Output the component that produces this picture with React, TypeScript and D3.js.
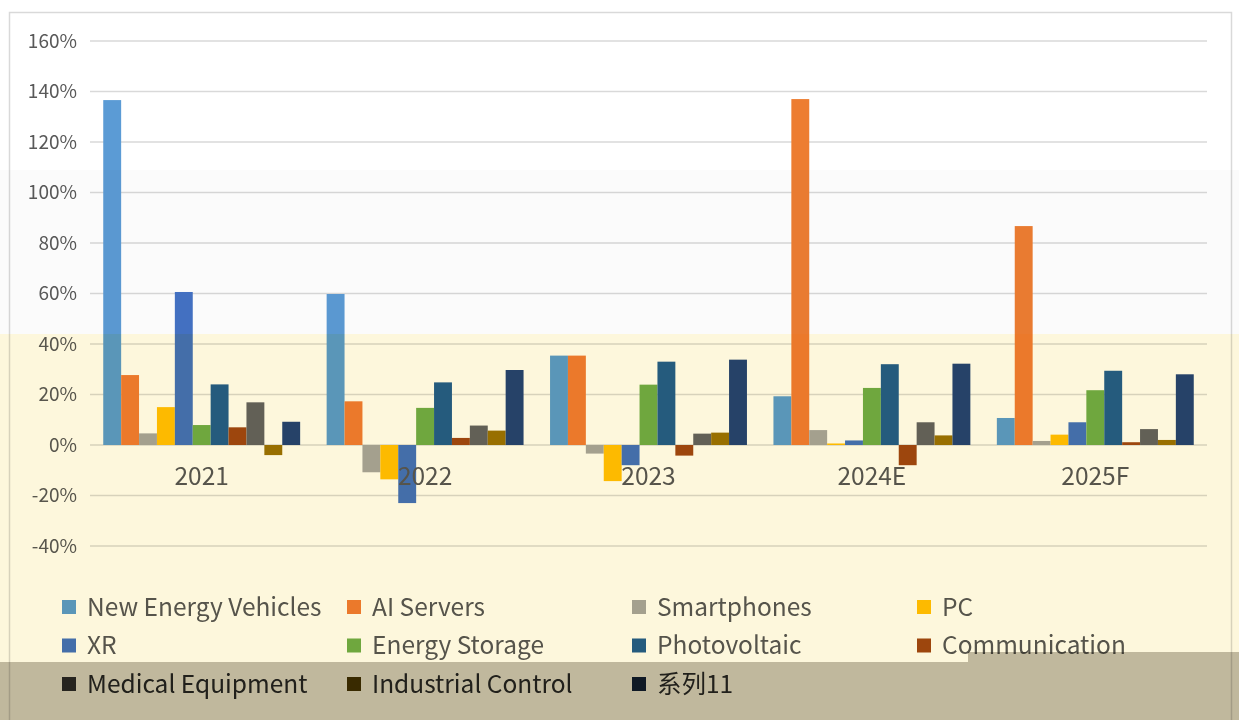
import React from "react";
import * as d3 from "d3";

const categories = ["2021", "2022", "2023", "2024E", "2025F"];
const seriesNames = [
  "New Energy Vehicles",
  "AI Servers",
  "Smartphones",
  "PC",
  "XR",
  "Energy Storage",
  "Photovoltaic",
  "Communication",
  "Medical Equipment",
  "Industrial Control",
  "系列11",
];
const seriesColors = [
  "#5b9bd5",
  "#ed7d31",
  "#a5a5a5",
  "#ffc000",
  "#4472c4",
  "#70ad47",
  "#255e91",
  "#9e480e",
  "#636363",
  "#997300",
  "#264478",
];
// values in %, one array per series, ordered by category
const newEnergyVehicles = [136.6, 59.8, 35.4, 19.3, 10.7];
const aiServers = [27.7, 17.3, 35.4, 137.0, 86.7];
const smartphones = [4.6, -10.8, -3.4, 5.9, 1.6];
const pc = [15.0, -13.6, -14.3, 0.6, 4.1];
const xr = [60.6, -23.0, -8.0, 1.8, 9.0];
const energyStorage = [7.9, 14.7, 23.9, 22.6, 21.7];
const photovoltaic = [24.0, 24.8, 33.0, 32.0, 29.4];
const communication = [7.0, 2.8, -4.2, -8.0, 1.1];
const medicalEquipment = [16.9, 7.7, 4.5, 9.0, 6.3];
const industrialControl = [-4.0, 5.7, 4.9, 3.8, 2.0];
const series11 = [9.2, 29.7, 33.8, 32.2, 28.0];
const yTicks = [-40, -20, 0, 20, 40, 60, 80, 100, 120, 140, 160];

const seriesValues = [
  newEnergyVehicles,
  aiServers,
  smartphones,
  pc,
  xr,
  energyStorage,
  photovoltaic,
  communication,
  medicalEquipment,
  industrialControl,
  series11,
];

const W = 1239;
const H = 720;
const FONT = "'Noto Sans CJK SC', 'Noto Sans', sans-serif";

export default function App() {
  const x0 = d3.scaleBand<string>().domain(categories).range([90, 1207]).paddingInner(0).paddingOuter(0);
  const x1 = d3
    .scaleBand<string>()
    .domain(seriesNames)
    .range([0, x0.bandwidth()])
    .paddingInner(0)
    .paddingOuter(0.74);
  const y = d3.scaleLinear().domain([-40, 160]).range([546, 41]);

  const legendCols = [62, 347, 632, 917];
  const legendRows = [607, 645.5, 684];

  return (
    <div style={{ position: "absolute", left: 0, top: 0 }}>
      <svg width={W} height={H} style={{ display: "block" }} fontFamily={FONT}>
        <rect x={0} y={0} width={W} height={H} fill="#ffffff" />
        {/* chart border */}
        <rect x={9.5} y={12.5} width={1222} height={760} fill="none" stroke="#d9d9d9" strokeWidth={1.5} />
        {/* gridlines */}
        {yTicks.map((t) => (
          <line key={t} x1={90} x2={1207} y1={y(t)} y2={y(t)} stroke="#d9d9d9" strokeWidth={1.5} />
        ))}
        {/* y tick labels */}
        {yTicks.map((t) => (
          <text key={t} x={77} y={y(t)} dy="0.35em" textAnchor="end" fontSize={19} fill="#595959">
            {t}%
          </text>
        ))}
        {/* bars */}
        {categories.map((c, ci) => (
          <g key={c} transform={`translate(${x0(c)},0)`}>
            {seriesNames.map((s, si) => {
              const v = seriesValues[si][ci];
              const yTop = y(Math.max(0, v));
              const h = Math.abs(y(v) - y(0));
              return <rect key={s} x={x1(s)} y={yTop} width={x1.bandwidth()} height={h} fill={seriesColors[si]} />;
            })}
          </g>
        ))}
        {/* category labels */}
        {categories.map((c) => (
          <text
            key={c}
            x={(x0(c) as number) + x0.bandwidth() / 2}
            y={485}
            textAnchor="middle"
            fontSize={24.5}
            fill="#575757"
          >
            {c}
          </text>
        ))}
        {/* legend */}
        {seriesNames.map((s, i) => {
          const col = i % 4;
          const row = Math.floor(i / 4);
          const lx = legendCols[col];
          const ly = legendRows[row];
          return (
            <g key={s} style={row === 2 ? { filter: "brightness(0.5)" } : undefined}>
              <rect x={lx} y={ly - 7} width={14} height={14} fill={seriesColors[i]} />
              <text x={lx + 25} y={ly} dy="0.35em" fontSize={24.5} fill="#575757">
                {s}
              </text>
            </g>
          );
        })}
        {/* background tint bands (multiply overlays) */}
        <rect x={0} y={170} width={W} height={164} fill="#fbfbfb" style={{ mixBlendMode: "multiply" }} />
        <rect x={0} y={334} width={968} height={328} fill="#fdf7dc" style={{ mixBlendMode: "multiply" }} />
        <rect x={968} y={334} width={W - 968} height={318} fill="#fdf7dc" style={{ mixBlendMode: "multiply" }} />
        <rect x={968} y={652} width={W - 968} height={10} fill="#c0b89d" style={{ mixBlendMode: "multiply" }} />
        <rect x={0} y={662} width={W} height={58} fill="#c0b89d" style={{ mixBlendMode: "multiply" }} />
      </svg>
    </div>
  );
}
